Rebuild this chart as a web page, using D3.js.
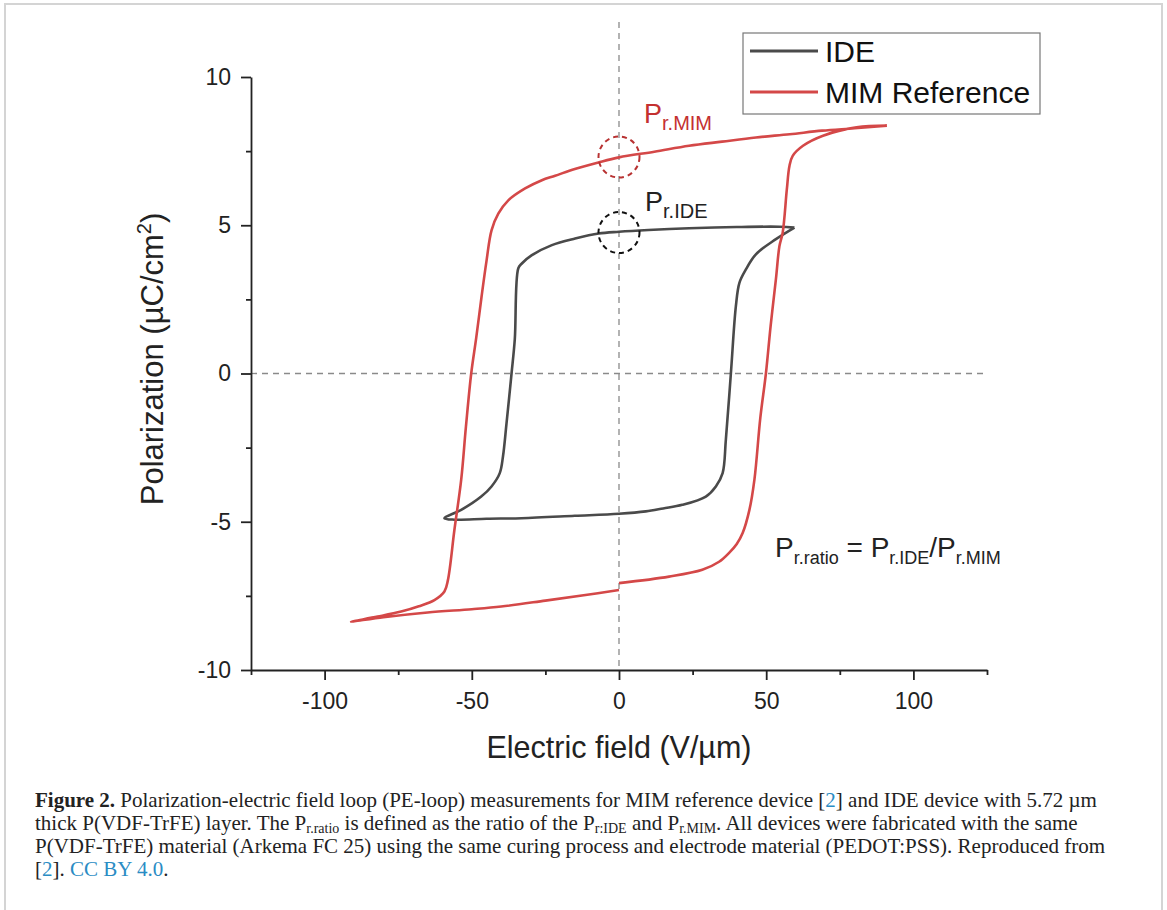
<!DOCTYPE html>
<meta charset="utf-8">
<style>
body { margin: 0; background: #fff; }
svg text { font-family: "Liberation Sans", Arial, sans-serif; }
.caption { position: absolute; left: 35px; top: 789px; width: 1120px;
  font-family: "Liberation Serif", "Times New Roman", serif; font-size: 21px; line-height: 23px; color: #222; }
.caption sub { font-size: 14px; vertical-align: -3px; line-height: 0; }
.caption .ln { color: #2a8cc4; }
</style>
<script src="https://d3js.org/d3.v7.min.js"></script>
<div id="chart"></div>
<div class="caption">
<b>Figure 2.</b> Polarization-electric field loop (PE-loop) measurements for MIM reference device [<span class="ln">2</span>] and IDE device with 5.72 µm<br>
thick P(VDF-TrFE) layer. The P<sub>r.ratio</sub> is defined as the ratio of the P<sub>r:IDE</sub> and P<sub>r.MIM</sub>. All devices were fabricated with the same<br>
P(VDF-TrFE) material (Arkema FC 25) using the same curing process and electrode material (PEDOT:PSS). Reproduced from<br>
[<span class="ln">2</span>]. <span class="ln">CC BY 4.0</span>.
</div>
<script>
// MIM reference loop (E in V/um, P in uC/cm2); null = small jump in the trace at E=0
var mimE = [91, 80, 69, 58, 46.5, 35, 23.8, 12, 0, -7, -15, -21.7, -26.2, -31.9, -37.6, -41, -43.3, -45, -46.7, -48.5, -50.2, -52, -53.6, -55.9, -58.1, -59.3, -62.7, -68, -74, -82, -91,
            -80, -65, -50, -40, -25, -12, 0, null, 0, 17, 28.3, 34, 37.4, 40, 42, 44.3, 46, 48, 49.9, 51.5, 53.3, 54.5, 55.6, 57, 57.9, 59, 62.5, 69.3, 80.7, 91];
var mimP = [8.36, 8.27, 8.19, 8.07, 7.96, 7.82, 7.68, 7.48, 7.29, 7.12, 6.9, 6.67, 6.52, 6.24, 5.84, 5.39, 4.83, 3.8, 2.58, 1.2, 0, -1.8, -3.58, -5.27, -6.96, -7.35, -7.64, -7.85, -8.03, -8.2, -8.37,
            -8.22, -8.06, -7.95, -7.86, -7.66, -7.48, -7.3, null, -7.07, -6.85, -6.62, -6.35, -6.05, -5.75, -5.38, -4.6, -3.58, -1.5, 0, 1.6, 3.18, 4.3, 4.75, 6.2, 7.0, 7.34, 7.68, 8.02, 8.3, 8.36];

// IDE loop
var ideE = [59.6, 54.5, 40, 23.8, 10, 0, -6.9, -14.9, -22.8, -29.6, -33, -34.2, -35.4, -36.5, -38.2, -39.4, -40.5, -43.3, -46.8, -53.6, -59.3,
            -55.9, -45, -33.1, -15, 0, 9.1, 15, 21.5, 29.5, 32.9, 35.2, 36.3, 38, 39.7, 40.9, 43.1, 46.5, 53.3, 59.6];
var ideP = [4.92, 4.95, 4.94, 4.9, 4.84, 4.78, 4.72, 4.55, 4.33, 3.99, 3.71, 3.55, 1.15, 0, -1.67, -2.79, -3.36, -3.81, -4.15, -4.6, -4.88,
            -4.93, -4.9, -4.88, -4.8, -4.73, -4.65, -4.55, -4.43, -4.15, -3.81, -3.36, -2.23, 0, 2.27, 3.06, 3.51, 4.02, 4.53, 4.92];

var xMajor = [-100, -50, 0, 50, 100];
var xMinor = [-125, -75, -25, 25, 75, 125];
var yMajor = [-10, -5, 0, 5, 10];
var yMinor = [-7.5, -2.5, 2.5, 7.5];

var seriesNames = ["IDE", "MIM Reference"];
var colors = ["#4a4a4a", "#d44848"];

var W = 1167, H = 910;
var svg = d3.select("#chart").append("svg").attr("width", W).attr("height", H);

// page frame
svg.append("rect").attr("x", 5).attr("y", 4).attr("width", 1157).attr("height", 930)
  .attr("fill", "none").attr("stroke", "#d4d4d4").attr("stroke-width", 2);

var x = d3.scaleLinear().domain([-125, 125]).range([251, 987]);
var y = d3.scaleLinear().domain([-10, 10]).range([670, 77]);

// dashed zero lines
svg.append("line").attr("x1", x(0)).attr("x2", x(0)).attr("y1", 22).attr("y2", y(-10))
  .attr("stroke", "#8a8a8a").attr("stroke-width", 1.3).attr("stroke-dasharray", "6,5");
svg.append("line").attr("x1", x(-125)).attr("x2", x(125)).attr("y1", y(0)).attr("y2", y(0))
  .attr("stroke", "#8a8a8a").attr("stroke-width", 1.3).attr("stroke-dasharray", "6,5");

// axes
function styleAxis(g) {
  g.selectAll("path, line").attr("stroke", "#222").attr("stroke-width", 1.8);
  g.selectAll("text").attr("fill", "#222").style("font-size", "23px")
    .style("font-family", "'Liberation Sans', Arial, sans-serif");
}
var fmt = function(d) { return d; };
svg.append("g").attr("transform", "translate(0," + y(-10) + ")")
  .call(d3.axisBottom(x).tickValues(xMajor).tickSize(10).tickSizeOuter(0).tickPadding(13).tickFormat(fmt))
  .call(styleAxis);
svg.append("g").attr("transform", "translate(0," + y(-10) + ")")
  .call(d3.axisBottom(x).tickValues(xMinor).tickSize(5).tickSizeOuter(0).tickFormat(""))
  .call(styleAxis).select(".domain").remove();
svg.append("g").attr("transform", "translate(" + x(-125) + ",0)")
  .call(d3.axisLeft(y).tickValues(yMajor).tickSize(10).tickSizeOuter(0).tickPadding(10).tickFormat(fmt))
  .call(styleAxis);
svg.append("g").attr("transform", "translate(" + x(-125) + ",0)")
  .call(d3.axisLeft(y).tickValues(yMinor).tickSize(5).tickSizeOuter(0).tickFormat(""))
  .call(styleAxis).select(".domain").remove();

// axis titles
svg.append("text").attr("x", x(0)).attr("y", 758).attr("text-anchor", "middle")
  .style("font-size", "30.5px").attr("fill", "#222").text("Electric field (V/µm)");
var yt = svg.append("text").attr("transform", "translate(163,359) rotate(-90)")
  .attr("text-anchor", "middle").style("font-size", "31px").attr("fill", "#222");
yt.append("tspan").text("Polarization (µC/cm");
yt.append("tspan").attr("dy", -12).style("font-size", "20px").text("2");
yt.append("tspan").attr("dy", 12).text(")");

// loops
var line = d3.line()
  .defined(function(d) { return d[0] !== null; })
  .x(function(d) { return x(d[0]); }).y(function(d) { return y(d[1]); })
  .curve(d3.curveCatmullRom.alpha(0.5));
var loops = [d3.zip(ideE, ideP), d3.zip(mimE, mimP)];
svg.selectAll(".loop").data(loops).enter().append("path")
  .attr("class", "loop")
  .attr("d", line)
  .attr("fill", "none")
  .attr("stroke", function(d, i) { return colors[i]; })
  .attr("stroke-width", 2.6)
  .attr("stroke-linejoin", "round");

// remanent polarization markers
svg.append("circle").attr("cx", x(0)).attr("cy", 157).attr("r", 20.5)
  .attr("fill", "none").attr("stroke", "#b83232").attr("stroke-width", 2).attr("stroke-dasharray", "5,4");
svg.append("circle").attr("cx", x(0)).attr("cy", 232.5).attr("r", 20.5)
  .attr("fill", "none").attr("stroke", "#111").attr("stroke-width", 2).attr("stroke-dasharray", "5,4");

function pLabel(px, py, sub, color) {
  var t = svg.append("text").attr("x", px).attr("y", py).attr("fill", color).style("font-size", "27px");
  t.append("tspan").text("P");
  t.append("tspan").attr("dy", 7).style("font-size", "20px").text(sub);
  return t;
}
pLabel(644, 123, "r.MIM", "#c43030");
pLabel(645, 211, "r.IDE", "#222");

// ratio formula
var f = svg.append("text").attr("x", 775).attr("y", 557).attr("fill", "#222").style("font-size", "28px");
f.append("tspan").text("P");
f.append("tspan").attr("dy", 7).style("font-size", "18px").text("r.ratio");
f.append("tspan").attr("dy", -7).text(" = P");
f.append("tspan").attr("dy", 7).style("font-size", "18px").text("r.IDE");
f.append("tspan").attr("dy", -7).text("/P");
f.append("tspan").attr("dy", 7).style("font-size", "18px").text("r.MIM");

// legend
var lg = svg.append("g");
lg.append("rect").attr("x", 743).attr("y", 33).attr("width", 297).attr("height", 81)
  .attr("fill", "#fff").attr("stroke", "#777").attr("stroke-width", 1.2);
var items = lg.selectAll(".li").data(seriesNames).enter().append("g")
  .attr("transform", function(d, i) { return "translate(0," + (51 + i * 41) + ")"; });
items.append("line").attr("x1", 750).attr("x2", 818)
  .attr("stroke", function(d, i) { return colors[i]; }).attr("stroke-width", 3);
items.append("text").attr("x", 825).attr("dy", "0.36em").style("font-size", "30px").attr("fill", "#111")
  .text(function(d) { return d; });
</script>
